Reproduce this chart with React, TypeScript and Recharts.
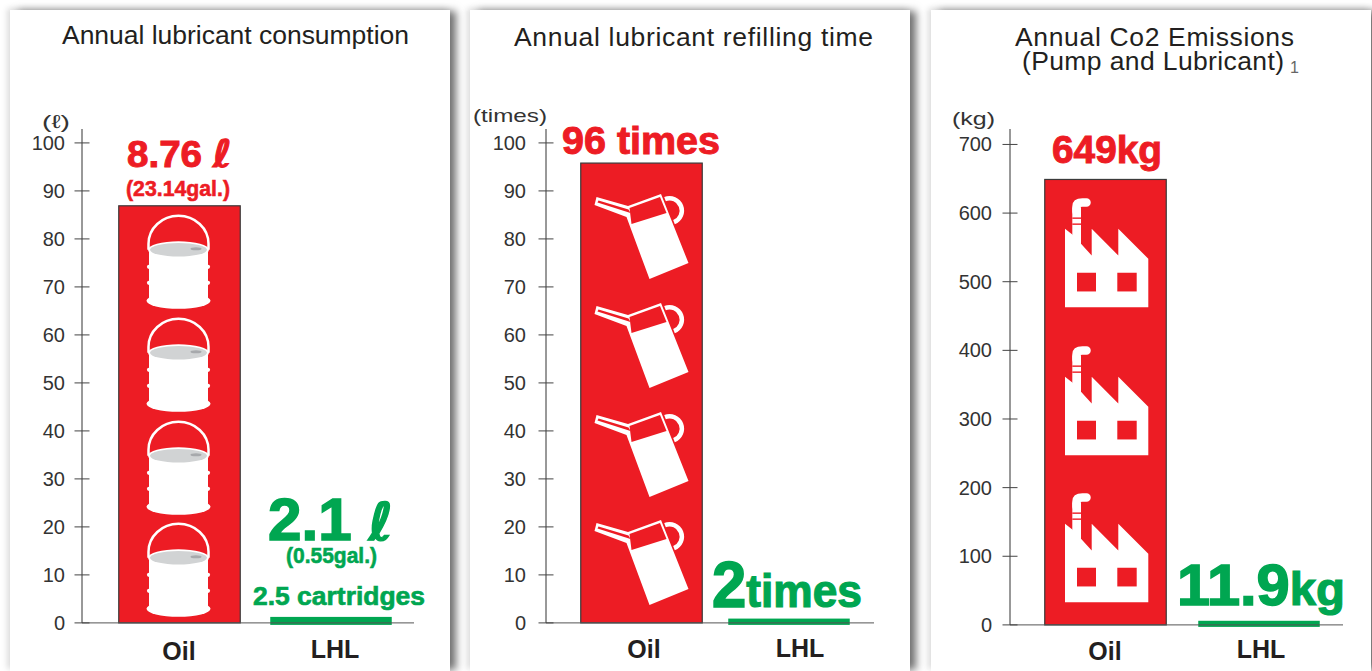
import React from 'react';
import { BarChart, Bar, XAxis, YAxis, LabelList } from 'recharts';

const categories = ['Oil', 'LHL'];

// bar heights
const consumptionValues = [86.9, 1.25];
const refillingValues = [95.8, 0.9];
const emissionsValues = [649, 6];

const percentTicks = [0, 10, 20, 30, 40, 50, 60, 70, 80, 90, 100];
const emissionTicks = [0, 100, 200, 300, 400, 500, 600, 700];

const RED = '#ED1C24';
const GREEN = '#00A651';
const INK = '#231F20';
const FONT = '"Liberation Sans", Arial, sans-serif';
const SCRIPT = '"DejaVu Sans"';

type Seg = { t: string; size: number; font?: string };
type Line = { segs: Seg[]; dx: number; dy: number; len: number };

function Bucket({ cx, top }: { cx: number; top: number }) {
  return (
    <g transform={`translate(${cx},${top})`}>
      <path d="M-30 34 V28 A30 28 0 0 1 30 28 V34" fill="none" stroke="#fff" strokeWidth={2.5} />
      <rect x={-29.5} y={34} width={59} height={52} fill="#fff" />
      {[51, 67].map((b) => (
        <g key={b}>
          <circle cx={-29.5} cy={b} r={2.1} fill="#fff" />
          <circle cx={29.5} cy={b} r={2.1} fill="#fff" />
        </g>
      ))}
      <ellipse cx={0} cy={85} rx={32} ry={8} fill="#fff" />
      <ellipse cx={0} cy={34} rx={30.5} ry={8.5} fill="#fff" />
      <ellipse cx={0} cy={34} rx={28.5} ry={6.8} fill="#D1D3D4" />
      <ellipse cx={17.5} cy={33} rx={5.5} ry={1.5} fill="#A7A9AC" />
    </g>
  );
}

function OilCan({ cx, top }: { cx: number; top: number }) {
  return (
    <g transform={`translate(${cx},${top})`}>
      <path d="M23.5 5 A12 12 0 1 1 32.5 28" fill="none" stroke="#fff" strokeWidth={4.5} />
      <path d="M-45 3 L-13.5 12 L19.5 0 L47 69 L8 85 L-15 23 L-47 11 Z" fill="#fff" />
      <path d="M-43 6.5 L-13 15.5 L-11 19 L-44 8.5 Z" fill={RED} />
      <path d="M-12 14 L18.5 3 L25 19 L-10 30 Z" fill={RED} />
    </g>
  );
}

function Factory({ cx, top }: { cx: number; top: number }) {
  return (
    <g transform={`translate(${cx},${top})`}>
      <path d="M-29 14 V9 Q-29 5 -23 5 H-19" fill="none" stroke="#fff" strokeWidth={8.5} strokeLinecap="round" />
      <rect x={-33.2} y={10} width={8.7} height={37} fill="#fff" />
      <rect x={-33.2} y={20} width={8.7} height={1.4} fill={RED} />
      <rect x={-33.2} y={26} width={8.7} height={1.4} fill={RED} />
      <path d="M-40.5 31.3 L-33.2 37 L-24.5 46.3 L-13.8 58 V31.3 L12.8 58 V31.3 L42.8 61.3 V109.7 H-40.5 Z" fill="#fff" />
      <rect x={-28.5} y={75.3} width={19} height={18.7} fill={RED} />
      <rect x={11.8} y={75.3} width={19.4} height={18.7} fill={RED} />
    </g>
  );
}

function Panel({
  left,
  values,
  ticks,
  yMax,
  bottomMargin,
  axisX,
  axisRight,
  padLeft,
  padRight,
  labelGap,
  xTickShift,
  xTickBase,
  icon: Icon,
  iconOffsets,
  labels,
  iconShift,
  children,
}: any) {
  const data = categories.map((name, i) => ({ name, value: values[i] }));
  const W = 441;

  const renderBar = (p: any) => {
    const oil = p.index === 0;
    return (
      <g>
        <rect
          x={p.x}
          y={p.y}
          width={p.width}
          height={p.height + (oil ? 0 : 2)}
          fill={oil ? RED : GREEN}
          stroke={oil ? '#3a3a3a' : 'none'}
          strokeWidth={1.2}
        />
        {oil &&
          iconOffsets.map((o: number) => (
            <Icon key={o} cx={p.x + p.width / 2 + iconShift} top={p.y + o} />
          ))}
      </g>
    );
  };

  const renderLabel = (p: any) => {
    const lines: Line[] = labels[p.index];
    const color = p.index === 0 ? RED : GREEN;
    return (
      <g>
        {lines.map((l, i) => (
          <text
            key={i}
            x={p.x + p.width / 2 + l.dx}
            y={p.y + l.dy}
            textAnchor="middle"
            fontFamily={FONT}
            fontWeight="bold"
            fill={color}
            stroke={color}
            textLength={l.len}
            lengthAdjust="spacingAndGlyphs"
          >
            {l.segs.map((s, j) => (
              <tspan
                key={j}
                fontSize={s.size}
                strokeWidth={s.size * 0.026}
                fontFamily={s.font || FONT}
                fontStyle={s.font ? 'italic' : 'normal'}
              >
                {s.t}
              </tspan>
            ))}
          </text>
        ))}
      </g>
    );
  };

  const yTick = (p: any) => (
    <g>
      <line x1={p.x - 7.5} x2={p.x + 7.5} y1={p.y} y2={p.y} stroke="#444" strokeWidth={1} />
      <text x={p.x - labelGap} y={p.y + 7} textAnchor="end" fontFamily={FONT} fontSize={20} fill="#333">
        {p.payload.value}
      </text>
    </g>
  );

  const xTick = (p: any) => (
    <text
      x={p.x + xTickShift[p.index]}
      y={xTickBase[p.index]}
      textAnchor="middle"
      fontFamily={FONT}
      fontWeight="bold"
      fontSize={25}
      fill={INK}
    >
      {p.payload.value}
    </text>
  );

  return (
    <div
      style={{
        position: 'absolute',
        left,
        top: 10,
        width: W - 1,
        height: 661,
        background: '#fff',
        boxShadow: '7px 0 8px -1px #6f6f6f, -3px -2px 6px rgba(0,0,0,0.13)',
      }}
    >
      <BarChart
        width={W}
        height={661}
        data={data}
        margin={{ top: 119, right: W - (axisRight - left), bottom: bottomMargin, left: 0 }}
        barSize={121.5}
      >
        <XAxis
          dataKey="name"
          height={0.1}
          padding={{ left: padLeft, right: padRight }}
          stroke="#555"
          tickLine={false}
          tick={xTick}
          interval={0}
        />
        <YAxis
          type="number"
          domain={[0, yMax]}
          ticks={ticks}
          width={axisX - left}
          stroke="#333"
          tickLine={false}
          tickSize={0}
          tickMargin={0}
          tick={yTick}
          interval={0}
        />
        <Bar dataKey="value" shape={renderBar} isAnimationActive={false}>
          <LabelList dataKey="value" content={renderLabel} />
        </Bar>
        {children}
      </BarChart>
    </div>
  );
}

const titleStyle = { fontFamily: FONT, fontSize: 26.5, fill: INK };
const unitStyle = { fontFamily: FONT, fontSize: 19, fill: '#333', lengthAdjust: 'spacingAndGlyphs' };

export default function App() {
  return (
    <div style={{ position: 'absolute', left: 0, top: 0, width: 1372, height: 671, overflow: 'hidden', background: '#fff' }}>
      <Panel
        left={10}
        values={consumptionValues}
        ticks={percentTicks}
        yMax={102.9}
        bottomMargin={48}
        axisX={82}
        axisRight={414}
        padLeft={21.75}
        padRight={7.25}
        labelGap={17}
        xTickShift={[-0.5, 4]}
        xTickBase={[650, 648]}
        icon={Bucket}
        iconOffsets={[10, 113, 216, 318]}
        iconShift={-1}
        labels={[
          [
            { segs: [{ t: '8.76 ', size: 36 }, { t: 'ℓ', size: 38, font: SCRIPT }], dx: 0, dy: -39, len: 105 },
            { segs: [{ t: '(23.14gal.)', size: 22 }], dx: -1.5, dy: -10, len: 104 },
          ],
          [
            { segs: [{ t: '2.1 ', size: 60 }, { t: 'ℓ', size: 52, font: SCRIPT }], dx: -0.5, dy: -77, len: 125 },
            { segs: [{ t: '(0.55gal.)', size: 22 }], dx: 0.5, dy: -54, len: 91 },
            { segs: [{ t: '2.5 cartridges', size: 25 }], dx: 8, dy: -12, len: 172 },
          ],
        ]}
      >
        <text x={52} y={34} textLength={347} {...titleStyle}>Annual lubricant consumption</text>
        <text x={32} y={118} textLength={28} {...unitStyle}>(ℓ)</text>
      </Panel>

      <Panel
        left={470}
        values={refillingValues}
        ticks={percentTicks}
        yMax={102.9}
        bottomMargin={48}
        axisX={546}
        axisRight={874}
        padLeft={21.75}
        padRight={11.25}
        labelGap={20}
        xTickShift={[2.5, 11]}
        xTickBase={[648, 647]}
        icon={OilCan}
        iconOffsets={[31, 140, 249, 357]}
        iconShift={0}
        labels={[
          [{ segs: [{ t: '96 times', size: 38 }], dx: -0.5, dy: -9, len: 158 }],
          [{ segs: [{ t: '2', size: 64 }, { t: 'times', size: 46 }], dx: -2, dy: -12, len: 150 }],
        ]}
      >
        <text x={44} y={36} textLength={359} {...titleStyle}>Annual lubricant refilling time</text>
        <text x={3} y={112} textLength={74} {...unitStyle}>(times)</text>
      </Panel>

      <Panel
        left={931}
        values={emissionsValues}
        ticks={emissionTicks}
        yMax={722.5}
        bottomMargin={46}
        axisX={1010}
        axisRight={1343}
        padLeft={18.75}
        padRight={7.25}
        labelGap={18}
        xTickShift={[-0.5, 2]}
        xTickBase={[650, 648]}
        icon={Factory}
        iconOffsets={[18, 166, 313]}
        iconShift={0}
        labels={[
          [{ segs: [{ t: '649kg', size: 38 }], dx: 1.5, dy: -16, len: 110 }],
          [{ segs: [{ t: '11.9', size: 58 }, { t: 'kg', size: 46 }], dx: 2, dy: -16, len: 168 }],
        ]}
      >
        <text x={84} y={36} textLength={279} {...titleStyle}>Annual Co2 Emissions</text>
        <text x={91} y={60} textLength={262} {...titleStyle}>(Pump and Lubricant)</text>
        <text x={359} y={63} fontFamily={FONT} fontSize={16} fill="#666">1</text>
        <text x={21} y={115} textLength={43} {...unitStyle}>(kg)</text>
      </Panel>
    </div>
  );
}
